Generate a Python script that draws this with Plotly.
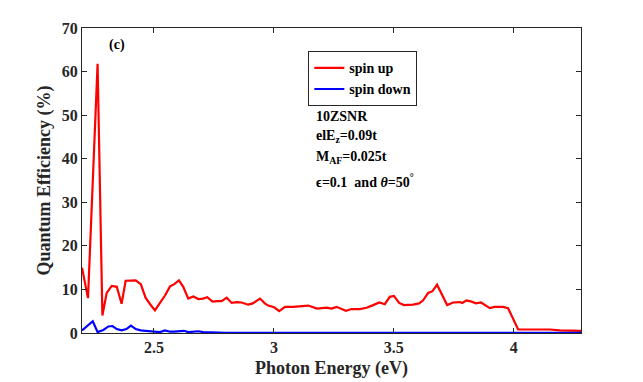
import plotly.graph_objects as go

# spin up curve
up_x = [2.200, 2.225, 2.265, 2.285, 2.303, 2.324, 2.345, 2.365, 2.382, 2.405,
        2.424, 2.445, 2.465, 2.484, 2.504, 2.525, 2.546, 2.567, 2.585, 2.604,
        2.622, 2.643, 2.664, 2.685, 2.705, 2.722, 2.744, 2.763, 2.782, 2.803,
        2.824, 2.845, 2.865, 2.893, 2.912, 2.942, 2.962, 2.976, 3.001, 3.022,
        3.046, 3.080, 3.115, 3.143, 3.180, 3.220, 3.240, 3.261, 3.300, 3.324,
        3.358, 3.386, 3.414, 3.439, 3.462, 3.483, 3.500, 3.522, 3.542, 3.580,
        3.605, 3.622, 3.643, 3.661, 3.680, 3.722, 3.747, 3.775, 3.785, 3.803,
        3.824, 3.842, 3.863, 3.900, 3.920, 3.955, 3.976, 4.018, 4.053, 4.122,
        4.150, 4.190, 4.280]
up_y = [15.0, 8.0, 61.8, 4.0, 9.2, 10.8, 10.6, 6.7, 12.0, 12.0,
        12.1, 11.2, 8.1, 6.6, 5.2, 6.9, 8.6, 10.7, 11.2, 12.1,
        10.6, 7.9, 8.4, 7.8, 7.9, 8.2, 7.2, 7.3, 7.3, 8.1,
        6.9, 7.1, 7.0, 6.5, 6.8, 7.9, 6.8, 6.3, 5.9, 5.0,
        6.0, 6.0, 6.2, 6.3, 5.6, 5.8, 5.6, 6.0, 5.1, 5.5,
        5.5, 5.8, 6.4, 7.0, 6.6, 8.3, 8.5, 6.9, 6.4, 6.5,
        6.8, 7.5, 9.2, 9.6, 11.1, 6.4, 7.0, 7.1, 6.9, 7.5,
        7.2, 6.8, 7.0, 5.7, 6.0, 6.0, 5.7, 0.8, 0.8, 0.9,
        0.8, 0.6, 0.5]

# spin down curve
down_x = [2.200, 2.245, 2.265, 2.289, 2.310, 2.327, 2.345, 2.365, 2.385, 2.404,
          2.424, 2.445, 2.465, 2.484, 2.504, 2.525, 2.546, 2.567, 2.585, 2.625,
          2.643, 2.664, 2.685, 2.705, 2.750, 2.800, 3.000, 3.500, 4.000, 4.280]
down_y = [0.6, 2.7, 0.2, 0.7, 1.5, 1.6, 0.9, 0.6, 0.9, 1.7,
          0.9, 0.6, 0.5, 0.4, 0.2, 0.2, 0.6, 0.3, 0.3, 0.5,
          0.2, 0.3, 0.4, 0.2, 0.1, 0.05, 0.05, 0.02, 0.02, 0.01]

x_ticks = [2.5, 3, 3.5, 4]
y_ticks = [0, 10, 20, 30, 40, 50, 60, 70]

FONT = "Liberation Serif"
AXC = "#262626"

fig = go.Figure()
fig.add_trace(go.Scatter(x=up_x, y=up_y, mode="lines", name="<b>spin up</b>",
                         line=dict(color="#ff0000", width=2.2)))
fig.add_trace(go.Scatter(x=down_x, y=down_y, mode="lines", name="<b>spin down</b>",
                         line=dict(color="#0000ff", width=2.2)))

axis_common = dict(showline=True, linecolor=AXC, linewidth=1.3, mirror="ticks",
                   ticks="inside", ticklen=5, tickcolor=AXC, showgrid=False,
                   zeroline=False, automargin=False,
                   tickfont=dict(family=FONT, size=16, color=AXC))

fig.update_xaxes(range=[2.2, 4.28], tickvals=x_ticks,
                 ticktext=["<b>%g</b>" % v for v in x_ticks],
                 title=dict(text="<b>Photon Energy (eV)</b>", standoff=6,
                            font=dict(family=FONT, size=18, color=AXC)),
                 **axis_common)
fig.update_yaxes(range=[0, 70], tickvals=y_ticks,
                 ticktext=["<b>%d</b>" % v for v in y_ticks],
                 title=dict(text="<b>Quantum Efficiency (%)</b>", standoff=6,
                            font=dict(family=FONT, size=18, color=AXC)),
                 **axis_common)

notes = [
    ("<b>(c)</b>", 0.05, 0.945),
    ("<b>10ZSNR</b>", 0.465, 0.71),
    ("<b>elE<sub>z</sub>=0.09t</b>", 0.465, 0.645),
    ("<b>M<sub>AF</sub>=0.025t</b>", 0.465, 0.575),
    ("<b>ϵ=0.1  and <i>θ</i>=50<sup>°</sup></b>", 0.465, 0.50),
]
for txt, ax, ay in notes:
    fig.add_annotation(text=txt, x=ax, y=ay, xref="paper", yref="paper",
                       xanchor="left", yanchor="middle", showarrow=False,
                       font=dict(family=FONT, size=14, color="black"))

fig.update_layout(
    width=643, height=382,
    margin=dict(l=82, r=62, t=28, b=49),
    plot_bgcolor="white", paper_bgcolor="white",
    legend=dict(x=0.453, y=0.925, xanchor="left", yanchor="top",
                bordercolor=AXC, borderwidth=1.3, bgcolor="white",
                font=dict(family=FONT, size=14, color="black"),
                tracegroupgap=0, itemwidth=30),
    showlegend=True,
)

# page body has an 8px default margin; drop it so the figure sits at 0,0
fig.write_html("out.html", config={"displayModeBar": False},
               post_script="document.body.style.margin='0';")
